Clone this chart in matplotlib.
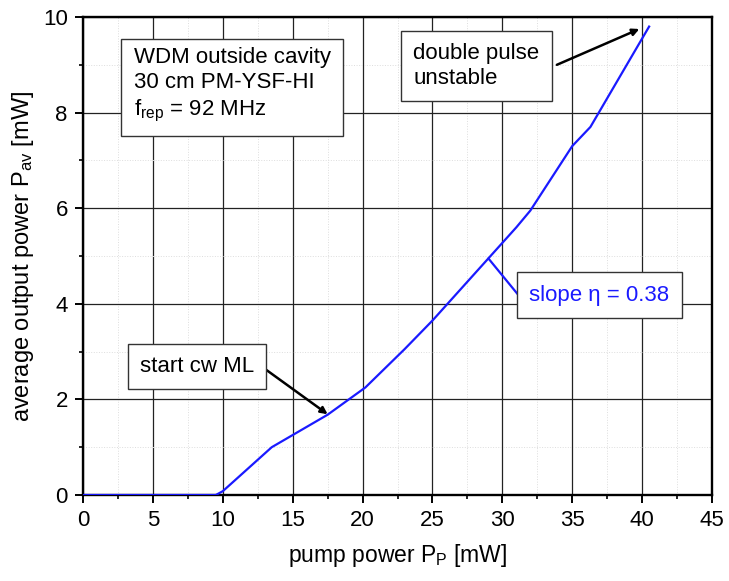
import matplotlib
matplotlib.use('Agg')
import matplotlib.pyplot as plt
from matplotlib.ticker import MultipleLocator

# pump power [mW] vs average output power [mW]
pump_power = [0, 9.5, 10.0, 13.5, 17.5, 20.2, 23.0, 25.0, 27.0, 29.0, 31.0, 32.0, 35.0, 36.3, 37.0, 40.5]
output_power = [0, 0, 0.08, 1.0, 1.68, 2.25, 3.05, 3.65, 4.3, 4.95, 5.6, 5.95, 7.3, 7.7, 8.05, 9.8]

plt.rcParams['font.family'] = ['Liberation Sans', 'DejaVu Sans']
plt.rcParams['mathtext.fontset'] = 'custom'
plt.rcParams['mathtext.rm'] = 'Liberation Sans'
plt.rcParams['mathtext.it'] = 'Liberation Sans:italic'

blue = '#1a1aff'

fig = plt.figure(figsize=(7.29, 5.81), dpi=100)
ax = fig.add_axes([0.1139, 0.148, 0.8628, 0.8227])

ax.plot(pump_power, output_power, color=blue, linewidth=1.6, zorder=3)

ax.set_xlim(0, 45)
ax.set_ylim(0, 10)
ax.xaxis.set_major_locator(MultipleLocator(5))
ax.xaxis.set_minor_locator(MultipleLocator(2.5))
ax.yaxis.set_major_locator(MultipleLocator(2))
ax.yaxis.set_minor_locator(MultipleLocator(1))

ax.grid(True, which='major', color='#222222', linewidth=0.9)
ax.grid(True, which='minor', color='#dddddd', linewidth=0.7, linestyle=':')
ax.set_axisbelow(True)

for s in ax.spines.values():
    s.set_linewidth(1.7)
ax.tick_params(which='major', direction='out', length=6, width=1.4, labelsize=16, pad=5)
ax.tick_params(which='minor', direction='out', length=3, width=1.2)

ax.set_xlabel(r'pump power $\mathregular{P_P}$ [mW]', fontsize=16.5, labelpad=8)
ax.set_ylabel(r'average output power $\mathregular{P_{av}}$ [mW]', fontsize=17, labelpad=5)

box = dict(boxstyle='square,pad=0.55', facecolor='white', edgecolor='#333333', linewidth=1.0)

ax.text(10.66, 8.57, 'WDM outside cavity\n30 cm PM-YSF-HI\n' + r'$\mathregular{f_{rep}}$ = 92 MHz',
        fontsize=16, ha='center', va='center', multialignment='left', linespacing=1.25, bbox=box, zorder=5)
ax.text(28.15, 8.97, 'double pulse\nunstable', fontsize=16, ha='center', va='center',
        multialignment='left', linespacing=1.25, bbox=box, zorder=5)
ax.text(8.15, 2.69, 'start cw ML', fontsize=16, ha='center', va='center', bbox=box, zorder=5)
ax.text(36.95, 4.18, 'slope η = 0.38', fontsize=16, color=blue, ha='center', va='center', bbox=box, zorder=5)

arrow = dict(arrowstyle='-|>', color='black', lw=1.8, mutation_scale=10, shrinkA=0, shrinkB=0)
ax.annotate('', xy=(39.8, 9.75), xytext=(33.9, 9.0), arrowprops=arrow, zorder=4)
ax.annotate('', xy=(17.5, 1.69), xytext=(13.1, 2.62), arrowprops=arrow, zorder=4)
ax.annotate('', xy=(29.0, 4.95), xytext=(31.1, 4.2),
            arrowprops=dict(arrowstyle='-', color=blue, lw=1.6, shrinkA=0, shrinkB=0), zorder=4)

fig.savefig('out.png', dpi=100)
